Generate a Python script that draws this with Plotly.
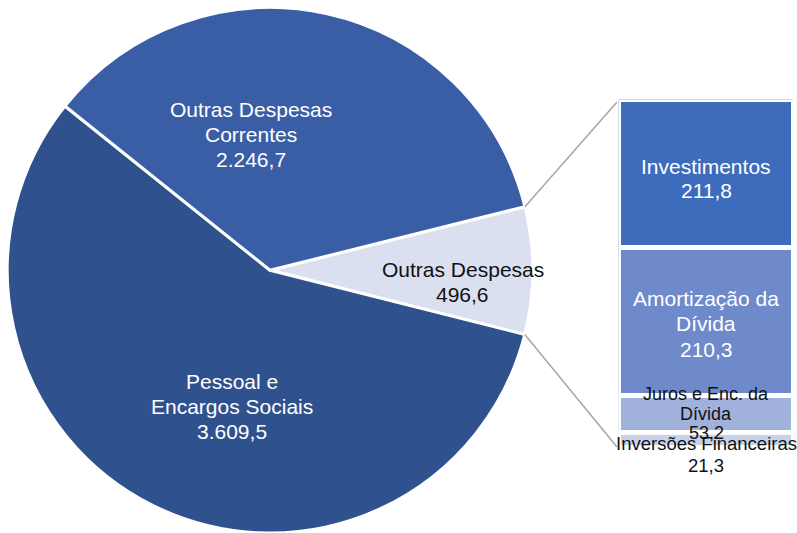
import math
import plotly.graph_objects as go

# ---- data ----
pie_labels = ["Outras Despesas", "Pessoal e<br>Encargos Sociais", "Outras Despesas<br>Correntes"]
pie_values = [496.6, 3609.5, 2246.7]
pie_value_text = ["496,6", "3.609,5", "2.246,7"]
pie_colors = ["#DAE0F0", "#2F528F", "#3A5EA6"]
pie_text_colors = ["#111111", "#FFFFFF", "#FFFFFF"]

bar_labels = ["Investimentos", "Amortização da<br>Dívida", "Juros e Enc. da<br>Dívida", "Inversões Financeiras"]
bar_values = [211.8, 210.3, 53.2, 21.3]
bar_value_text = ["211,8", "210,3", "53,2", "21,3"]
bar_colors = ["#3D6CBD", "#6F8ACB", "#A0B1DC", "#C7D1EB"]
bar_text_colors = ["#FFFFFF", "#FFFFFF", "#111111", "#111111"]

W, H = 797, 533
FONT = "Liberation Sans, Arial, sans-serif"

# ---- layout geometry (pixels) ----
pie_x0, pie_x1 = 7.25, 532.75
pie_y0, pie_y1 = 7.5, 533.0          # top / bottom in px
rotation = 76.0
bar_x0, bar_x1 = 618.5, 793.5
bar_top, bar_bottom = 99.5, 447.5

fig = go.Figure()

fig.add_trace(go.Pie(
    labels=pie_labels, values=pie_values, sort=False, direction="clockwise",
    rotation=rotation, textinfo="none", textposition="none",
    marker=dict(colors=pie_colors, line=dict(color="white", width=3)),
    domain=dict(x=[pie_x0 / W, pie_x1 / W], y=[1 - pie_y1 / H, 1 - pie_y0 / H]),
    showlegend=False, hoverinfo="label+value",
))

total_bar = sum(bar_values)
for lab, v, c in zip(bar_labels, bar_values, bar_colors):
    fig.add_trace(go.Bar(
        x=[0], y=[v], width=1, name=lab, xaxis="x2", yaxis="y2",
        marker=dict(color=c, line=dict(color="white", width=5)),
        showlegend=False, hoverinfo="name+y",
    ))

annotations = []


def add_lines(lines, x, y, xref, yref, base_shift, spacing, size, color):
    n = len(lines)
    for i, ln in enumerate(lines):
        off = (i - (n - 1) / 2) * spacing
        annotations.append(dict(
            text=ln, x=x, y=y, xref=xref, yref=yref, showarrow=False,
            xanchor="center", yanchor="middle", align="center",
            yshift=base_shift - off,
            font=dict(family=FONT, size=size, color=color)))


# pie labels (block centres in px)
pie_label_pos = [(463, 282), (232, 406), (251, 134)]
for lab, vt, tc, (px, py) in zip(pie_labels, pie_value_text, pie_text_colors, pie_label_pos):
    add_lines(lab.split("<br>") + [vt], px / W, 1 - py / H, "paper", "paper",
              0, 25, 21, tc)

# bar labels at segment midpoints
yshifts = [-5, -2, 0, -14]
sizes = [21, 21, 18, 18.5]
spacings = [24, 25.5, 19.5, 22]
cum = 0.0
for lab, v, vt, tc, ys, sz, sp in zip(bar_labels, bar_values, bar_value_text,
                                      bar_text_colors, yshifts, sizes, spacings):
    mid = cum + v / 2
    cum += v
    add_lines(lab.split("<br>") + [vt], 0, mid, "x2", "y2", ys, sp, sz, tc)

# connector lines: from the edges of the "Outras Despesas" slice to bar corners
cx = (pie_x0 + pie_x1) / 2
cy = (pie_y0 + pie_y1) / 2
r = min(pie_x1 - pie_x0, pie_y1 - pie_y0) / 2
frac = pie_values[0] / sum(pie_values)
shapes = []
for ang, by in [(rotation, bar_top + 2.5), (rotation + frac * 360, bar_bottom - 0.5)]:
    a = math.radians(ang)
    px = cx + r * math.sin(a)
    py = cy - r * math.cos(a)
    shapes.append(dict(type="line", xref="paper", yref="paper",
                       x0=px / W, y0=1 - py / H, x1=(bar_x0 - 1.5) / W, y1=1 - by / H,
                       line=dict(color="#A6A6A6", width=1.5)))

fig.update_layout(
    width=W, height=H, margin=dict(l=0, r=0, t=0, b=0),
    paper_bgcolor="white", plot_bgcolor="rgba(0,0,0,0)",
    barmode="stack", bargap=0,
    xaxis2=dict(domain=[bar_x0 / W, bar_x1 / W], range=[-0.5, 0.5], visible=False,
                anchor="y2", fixedrange=True),
    yaxis2=dict(domain=[1 - bar_bottom / H, 1 - bar_top / H], range=[total_bar, 0],
                visible=False, anchor="x2", fixedrange=True),
    annotations=annotations, shapes=shapes,
    font=dict(family=FONT),
)

fig.write_html("out.html", config={"displayModeBar": False},
               post_script="document.body.style.margin='0';document.body.style.overflow='hidden';")
